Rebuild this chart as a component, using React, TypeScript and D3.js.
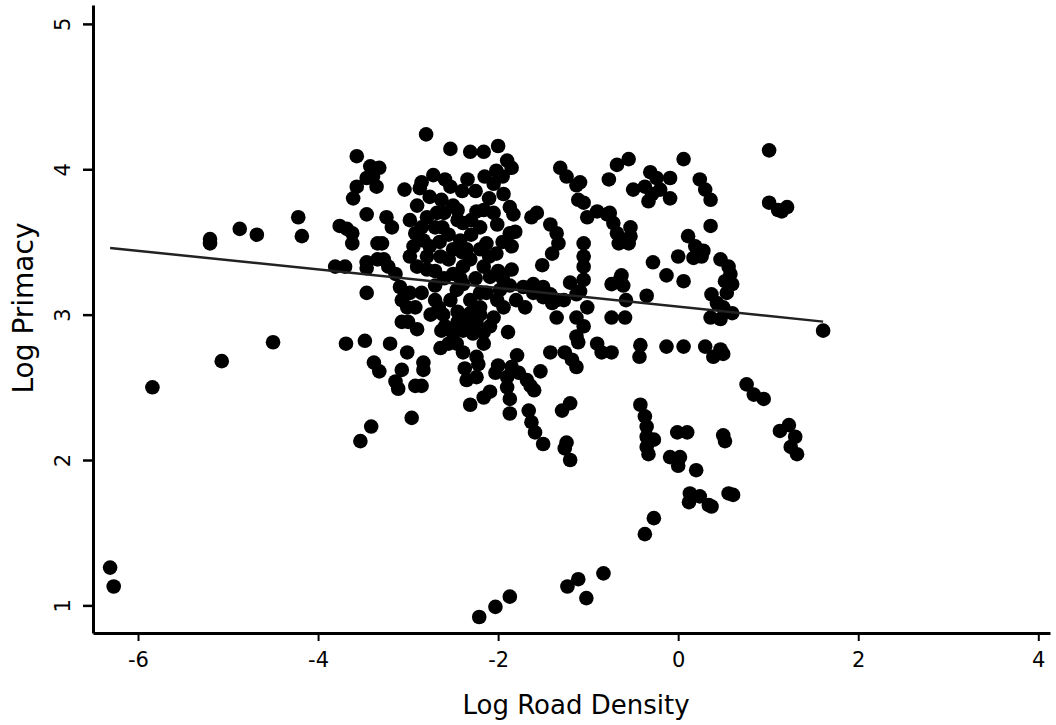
import React, { useEffect, useRef } from 'react';
import * as d3 from 'd3';

const xTicks: number[] = [-6, -4, -2, 0, 2, 4];
const yTicks: number[] = [1, 2, 3, 4, 5];
const xLabel = 'Log Road Density';
const yLabel = 'Log Primacy';
const regression = { intercept: 3.055, slope: -0.064 };

// [log road density, log primacy]
const points: [number, number][] = [
  [-6.31, 1.26], [-6.27, 1.13], [-5.84, 2.5], [-5.07, 2.68], [-5.2, 3.52], [-5.2, 3.49],
  [-4.87, 3.59], [-4.68, 3.55], [-4.22, 3.67], [-4.18, 3.54], [-4.5, 2.81], [-3.76, 3.61],
  [-3.68, 3.59], [-3.62, 3.56], [-3.62, 3.49], [-3.81, 3.33], [-3.7, 3.33], [-3.69, 2.8],
  [-3.48, 2.82], [-3.38, 2.67], [-3.32, 2.61], [-3.41, 2.23], [-3.53, 2.13], [-3.57, 4.09],
  [-3.42, 4.02], [-3.39, 3.95], [-3.46, 3.94], [-3.35, 3.88], [-3.57, 3.88], [-3.61, 3.8],
  [-3.46, 3.69], [-3.34, 3.49], [-3.46, 3.36], [-3.46, 3.32], [-3.34, 3.38], [-3.46, 3.15],
  [-3.32, 4.01], [-3.24, 3.67], [-3.18, 3.6], [-3.29, 3.49], [-3.27, 3.38], [-3.22, 3.33],
  [-3.14, 3.28], [-3.2, 2.8], [-3.01, 2.74], [-3.07, 2.62], [-3.14, 2.54], [-3.11, 2.49],
  [-2.83, 2.67], [-2.83, 2.62], [-2.92, 2.51], [-2.85, 2.51], [-2.96, 2.29], [-2.64, 2.77],
  [-2.46, 2.8], [-2.39, 2.74], [-2.16, 2.8], [-2.24, 2.71], [-2.22, 2.66], [-2.37, 2.63],
  [-2.35, 2.55], [-2.24, 2.57], [-2.31, 2.38], [-2.16, 2.43], [-2.09, 2.47], [-2.0, 2.65],
  [-2.03, 2.6], [-1.79, 2.72], [-1.85, 2.64], [-1.9, 2.57], [-1.9, 2.5], [-1.87, 2.42],
  [-1.87, 2.32], [-1.77, 2.6], [-1.68, 2.55], [-1.6, 2.48], [-1.53, 2.61], [-1.64, 2.51],
  [-1.66, 2.34], [-1.63, 2.26], [-1.59, 2.19], [-1.5, 2.11], [-1.42, 2.74], [-1.26, 2.74],
  [-1.18, 2.69], [-1.13, 2.64], [-1.11, 2.81], [-0.9, 2.8], [-0.85, 2.74], [-0.74, 2.74],
  [-1.29, 2.34], [-1.2, 2.39], [-1.24, 2.12], [-1.26, 2.08], [-1.2, 2.0], [-2.21, 0.92],
  [-2.03, 0.99], [-1.87, 1.06], [-1.23, 1.13], [-1.11, 1.18], [-0.83, 1.22], [-1.02, 1.05],
  [-0.42, 2.79], [-0.43, 2.71], [-0.13, 2.78], [0.06, 2.78], [0.3, 2.78], [0.39, 2.71],
  [0.5, 2.73], [0.76, 2.52], [0.84, 2.45], [0.95, 2.42], [-0.42, 2.38], [-0.37, 2.3],
  [-0.35, 2.23], [-0.35, 2.16], [-0.35, 2.09], [-0.27, 2.14], [-0.33, 2.04], [-0.01, 2.19],
  [0.1, 2.19], [0.5, 2.17], [0.52, 2.13], [1.13, 2.2], [1.23, 2.24], [1.3, 2.16],
  [1.25, 2.09], [1.32, 2.04], [-0.09, 2.02], [0.02, 2.02], [0.0, 1.96], [0.2, 1.93],
  [0.13, 1.77], [0.12, 1.71], [0.24, 1.75], [0.34, 1.69], [0.37, 1.68], [0.56, 1.77],
  [0.61, 1.76], [-0.27, 1.6], [-0.37, 1.49], [1.01, 4.13], [1.01, 3.77], [1.11, 3.72],
  [1.21, 3.74], [1.15, 3.71], [-0.55, 4.07], [-0.68, 4.03], [-0.77, 3.93], [0.06, 4.07],
  [-0.31, 3.98], [-0.24, 3.94], [-0.09, 3.94], [-0.5, 3.86], [-0.37, 3.88], [-0.33, 3.78],
  [-0.09, 3.8], [-0.2, 3.86], [-0.29, 3.83], [0.24, 3.93], [0.3, 3.86], [0.36, 3.79],
  [0.36, 3.61], [0.11, 3.54], [0.19, 3.47], [0.28, 3.44], [0.0, 3.4], [0.17, 3.39],
  [0.26, 3.4], [-0.28, 3.36], [-0.13, 3.27], [0.06, 3.23], [0.47, 3.38], [0.56, 3.33],
  [0.58, 3.28], [0.52, 3.23], [0.6, 3.21], [0.54, 3.15], [0.37, 3.14], [0.43, 3.08],
  [0.5, 3.05], [0.36, 2.98], [0.47, 2.97], [0.6, 3.01], [1.61, 2.89], [-0.63, 3.27],
  [-0.74, 3.21], [-0.61, 3.2], [-0.35, 3.13], [-0.58, 3.1], [-0.74, 2.98], [-0.59, 2.98],
  [-1.09, 3.91], [-1.05, 3.77], [-1.01, 3.67], [-0.9, 3.71], [-0.76, 3.7], [-0.72, 3.63],
  [-0.68, 3.56], [-0.53, 3.6], [-0.53, 3.54], [-0.66, 3.49], [-0.55, 3.49], [-1.05, 3.49],
  [-1.05, 3.4], [-1.05, 3.33], [-1.05, 3.24], [-1.09, 3.16], [-1.01, 3.05], [-1.05, 2.92],
  [0.47, 2.76], [-2.8, 4.24], [-2.53, 4.14], [-2.31, 4.12], [-2.16, 4.12], [-2.0, 4.16],
  [-3.04, 3.86], [-2.85, 3.91], [-2.72, 3.96], [-2.59, 3.93], [-2.53, 3.88], [-2.76, 3.81],
  [-2.63, 3.79], [-2.87, 3.87], [-2.34, 3.93], [-1.9, 4.06], [-1.85, 4.01], [-2.02, 3.99],
  [-2.05, 3.9], [-1.94, 3.83], [-1.87, 3.74], [-1.83, 3.69], [-1.31, 4.01], [-1.24, 3.95],
  [-1.13, 3.89], [-1.11, 3.79], [-0.79, 3.69], [-0.61, 3.51], [-1.57, 3.7], [-1.63, 3.67],
  [-1.42, 3.62], [-1.35, 3.56], [-1.33, 3.49], [-1.4, 3.42], [-1.51, 3.34], [-1.2, 3.22],
  [-2.98, 3.65], [-2.79, 3.67], [-2.68, 3.7], [-2.39, 3.63], [-2.24, 3.71], [-2.16, 3.72],
  [-2.01, 3.62], [-1.87, 3.56], [-1.81, 3.57], [-2.92, 3.56], [-2.83, 3.51], [-2.76, 3.47],
  [-2.94, 3.47], [-2.64, 3.4], [-2.98, 3.4], [-2.79, 3.4], [-2.42, 3.51], [-2.4, 3.43],
  [-2.13, 3.49], [-2.02, 3.42], [-1.85, 3.47], [-2.55, 3.38], [-2.5, 3.28], [-2.39, 3.33],
  [-2.31, 3.38], [-2.16, 3.33], [-2.09, 3.26], [-1.85, 3.31], [-2.9, 3.33], [-2.79, 3.31],
  [-3.09, 3.19], [-3.07, 3.1], [-3.01, 3.05], [-2.92, 3.05], [-2.98, 3.15], [-2.66, 3.05],
  [-2.61, 3.0], [-2.59, 2.92], [-2.53, 3.1], [-2.46, 3.17], [-2.39, 3.21], [-2.31, 3.1],
  [-2.31, 3.01], [-2.24, 2.94], [-2.13, 3.15], [-2.01, 3.1], [-1.94, 3.05], [-1.98, 3.17],
  [-2.05, 2.98], [-3.07, 2.95], [-3.0, 2.95], [-2.63, 2.89], [-2.5, 2.87], [-2.39, 2.89],
  [-2.28, 2.87], [-2.16, 2.88], [-2.09, 2.92], [-1.89, 2.88], [-1.87, 3.2], [-1.72, 3.19],
  [-1.61, 3.21], [-1.5, 3.19], [-1.42, 3.14], [-1.35, 3.1], [-1.27, 3.1], [-1.13, 3.14],
  [-1.13, 2.98], [-1.13, 2.85], [-1.35, 2.98], [-1.4, 3.08], [-1.5, 3.12], [-1.61, 3.15],
  [-0.64, 3.25], [-2.7, 3.6], [-2.55, 3.55], [-2.45, 3.65], [-2.3, 3.55], [-2.2, 3.6],
  [-2.1, 3.8], [-2.5, 3.75], [-2.6, 3.25], [-2.7, 3.2], [-2.45, 3.02], [-2.2, 3.05],
  [-2.1, 3.4], [-2.0, 3.3], [-1.95, 3.5], [-2.75, 3.0], [-2.85, 3.15], [-2.4, 3.85],
  [-2.15, 3.95], [-2.45, 3.72], [-2.62, 3.6], [-2.5, 3.45], [-2.35, 3.45], [-2.25, 3.25],
  [-2.42, 3.25], [-2.7, 3.3], [-2.2, 3.45], [-2.05, 3.7], [-1.95, 3.95], [-2.25, 3.85],
  [-2.65, 3.5], [-2.85, 3.6], [-2.9, 3.75], [-2.6, 3.7], [-2.3, 3.65], [-2.2, 3.15],
  [-2.35, 2.95], [-2.45, 2.95], [-2.7, 3.1], [-2.9, 2.9], [-2.55, 2.8], [-2.2, 3.0],
  [-1.95, 3.25], [-1.8, 3.1], [-1.7, 3.05],
];

const W = 1056;
const H = 725;
const FONT = "'DejaVu Sans', Verdana, sans-serif";

export default function App() {
  const gx = useRef<SVGGElement>(null);
  const gy = useRef<SVGGElement>(null);

  const x = d3.scaleLinear().domain([-6.5, 4.13]).range([93, 1050]);
  const y = d3.scaleLinear().domain([0.81, 5.13]).range([633, 5]);

  const [xMin, xMax] = d3.extent(points, (d) => d[0]) as [number, number];
  const regLine = d3
    .line<number>()
    .x((v) => x(v))
    .y((v) => y(regression.intercept + regression.slope * v))([xMin, xMax]);

  useEffect(() => {
    if (gx.current) {
      const g = d3.select(gx.current);
      g.selectAll('*').remove();
      g.call(
        d3
          .axisBottom(x)
          .tickValues(xTicks)
          .tickSize(8)
          .tickSizeOuter(0)
          .tickPadding(11)
          .tickFormat((d) => String(d))
      );
      g.select('.domain').attr('stroke', '#000').attr('stroke-width', 3);
      g.selectAll('.tick line').attr('stroke', '#000').attr('stroke-width', 2);
      g.selectAll('.tick text')
        .attr('fill', '#000')
        .style('font-family', FONT)
        .style('font-size', '21px');
    }
    if (gy.current) {
      const g = d3.select(gy.current);
      g.selectAll('*').remove();
      g.call(
        d3
          .axisLeft(y)
          .tickValues(yTicks)
          .tickSize(10)
          .tickSizeOuter(0)
          .tickFormat((d) => String(d))
      );
      g.select('.domain').attr('stroke', '#000').attr('stroke-width', 3);
      g.selectAll('.tick line').attr('stroke', '#000').attr('stroke-width', 2.5);
      g.selectAll('.tick text')
        .attr('fill', '#000')
        .attr('transform', 'rotate(-90)')
        .attr('x', 0)
        .attr('y', -31)
        .attr('dy', '0.36em')
        .attr('text-anchor', 'middle')
        .style('font-family', FONT)
        .style('font-size', '21px');
    }
  });

  return (
    <div style={{ position: 'absolute', left: 0, top: 0 }}>
      <svg width={W} height={H} style={{ display: 'block', background: '#fff' }}>
        <g>
          {points.map((d, i) => (
            <circle key={i} cx={x(d[0])} cy={y(d[1])} r={7.3} fill="#000" />
          ))}
        </g>
        <path d={regLine ?? ''} fill="none" stroke="#222" strokeWidth={2.5} />
        <g ref={gx} transform={`translate(0,${y.range()[0]})`} />
        <g ref={gy} transform={`translate(${x.range()[0]},0)`} />
        <text
          x={576}
          y={714}
          textAnchor="middle"
          style={{ fontFamily: FONT, fontSize: 26 }}
          fill="#000"
        >
          {xLabel}
        </text>
        <text
          transform={`translate(33,308) rotate(-90)`}
          textAnchor="middle"
          style={{ fontFamily: FONT, fontSize: 28 }}
          fill="#000"
        >
          {yLabel}
        </text>
      </svg>
    </div>
  );
}
